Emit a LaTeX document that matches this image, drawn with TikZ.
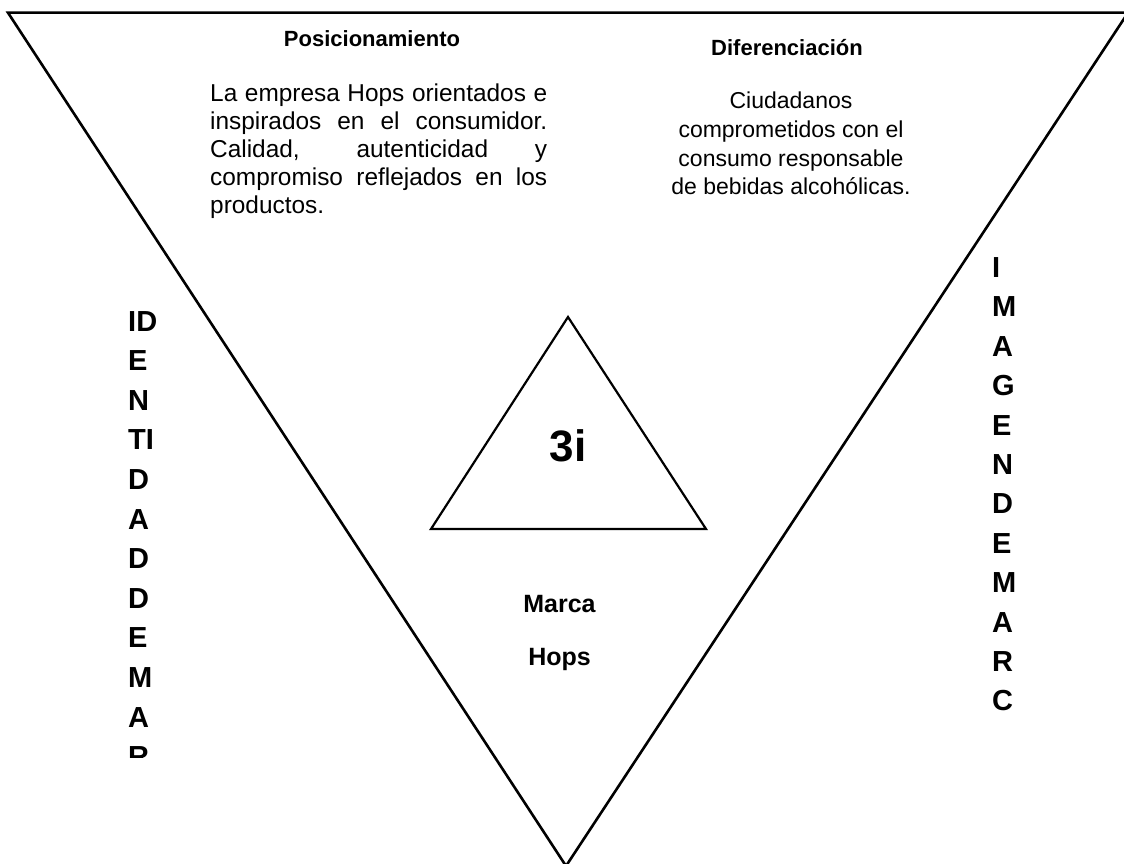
\documentclass[tikz,border=0pt]{standalone}
\usepackage{fontspec}
\setmainfont{Liberation Sans}
\tikzset{
  edge/.style={draw=black, line width=2.6pt, line join=miter},
  inner/.style={draw=black, line width=2.2pt, line join=miter},
  head/.style={font=\fontsize{22}{26}\selectfont\bfseries, inner sep=0pt, anchor=base},
  vletter/.style={font=\fontsize{29}{32}\selectfont\bfseries, inner sep=0pt, anchor=base west},
  brand/.style={font=\fontsize{25}{30}\selectfont\bfseries, inner sep=0pt, anchor=base},
}
\begin{document}
\begin{tikzpicture}[x=1pt,y=-1pt]
\useasboundingbox (0,0) rectangle (1124,864);
\clip (0,0) rectangle (1124,864);
\fill[white] (0,0) rectangle (1124,864);
% big inverted triangle
\coordinate (TL) at (8,12.7);
\coordinate (TR) at (1128,12.7);
\coordinate (BV) at (566,866);
\draw[edge] (TL) -- (TR) -- (BV) -- cycle;
% small triangle
\coordinate (SA) at (568,317);
\coordinate (SL) at (431,529);
\coordinate (SR) at (706,529);
\draw[inner] (SA) -- (SR) -- (SL) -- cycle;
\node[font=\fontsize{44}{48}\selectfont\bfseries, inner sep=0pt, anchor=base] (tri) at (568,461) {3i};
% headers
\node[head] (pos) at (372,47) {Posicionamiento};
\node[head] (dif) at (787,55.5) {Diferenciación};
% left paragraph
\node[font=\fontsize{24.4}{27.8}\selectfont, inner sep=0pt, anchor=north west, text width=337pt, align=justify] (ptext) at (210,84)
 {La empresa Hops orientados e\linebreak inspirados en el consumidor.\linebreak Calidad, autenticidad y\linebreak compromiso reflejados en los\linebreak productos.};
% right paragraph
\node[font=\fontsize{23}{28.7}\selectfont, inner sep=0pt, anchor=north, align=center] (dtext) at (791,92)
 {Ciudadanos\\comprometidos con el\\consumo responsable\\de bebidas alcohólicas.};
% brand
\node[brand] (marca) at (559.5,612) {Marca};
\node[brand] (hops) at (559.5,665) {Hops};
% left vertical word
\begin{scope}
\clip (0,0) rectangle (400,757);
\foreach \t [count=\i from 0] in {ID,E,N,TI,D,A,D,D,E,M,A,R}
  \node[vletter] (l\i) at (128,331+39.6*\i) {\t};
\end{scope}
% right vertical word
\foreach \t [count=\i from 0] in {I,M,A,G,E,N,D,E,M,A,R,C}
  \node[vletter] (r\i) at (992,277.5+39.4*\i) {\t};
\end{tikzpicture}
\end{document}
